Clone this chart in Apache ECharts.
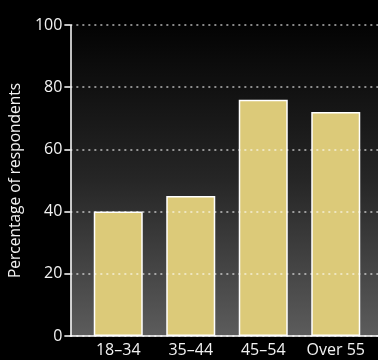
<!DOCTYPE html>
<html>
<head>
<meta charset="utf-8">
<script src="https://cdn.jsdelivr.net/npm/echarts@6/dist/echarts.min.js"></script>
<style>
html, body { margin: 0; padding: 0; background: #000; }
#chart { width: 378px; height: 360px; }
</style>
</head>
<body>
<div id="chart"></div>
<script>
var categories = ['18\u201334', '35\u201344', '45\u201354', 'Over 55'];
var percentages = [40, 45, 76, 72];
var yTicks = [0, 20, 40, 60, 80, 100];

var font = '"Open Sans", sans-serif';
var myChart = echarts.init(document.getElementById('chart'));

var option = {
    backgroundColor: '#000',
    grid: [
        // axis frame: y axis, dotted lines, x axis line
        {
            left: 69, right: 0, top: 25, bottom: 24,
            show: true, borderWidth: 0,
            backgroundColor: {
                type: 'linear', x: 0, y: 0, x2: 0, y2: 1,
                colorStops: [
                    { offset: 0, color: '#030303' },
                    { offset: 0.5, color: '#262626' },
                    { offset: 1, color: '#5c5c5c' }
                ]
            }
        },
        // bars
        { left: 82, right: 6, top: 25, bottom: 24 }
    ],
    xAxis: [
        {
            gridIndex: 0, type: 'value', min: 0, max: 1, z: 3,
            axisLine: { show: true, lineStyle: { color: '#fff', width: 1.5 } },
            axisTick: { show: false },
            axisLabel: { show: false },
            splitLine: { show: false }
        },
        {
            gridIndex: 1, type: 'category', data: categories,
            axisLine: { show: false },
            axisTick: { show: false },
            axisLabel: { color: '#f2f2f2', fontSize: 16, fontFamily: font, margin: 6, interval: 0 }
        }
    ],
    yAxis: [
        {
            gridIndex: 0, type: 'value', min: 0, max: 100, interval: 20, z: 3,
            name: 'Percentage of respondents',
            nameLocation: 'middle', nameGap: 45,
            nameTextStyle: { color: '#f2f2f2', fontSize: 15.5, fontFamily: font },
            axisLine: { show: true, lineStyle: { color: '#fff', width: 1.5 } },
            axisTick: { show: true, length: 6, lineStyle: { color: '#fff', width: 1.5 } },
            axisLabel: {
                color: '#f2f2f2', fontSize: 16, fontFamily: font, margin: 8,
                formatter: function(v) { return yTicks.indexOf(v) >= 0 ? String(v) : ''; }
            },
            splitLine: { show: true, lineStyle: { color: 'rgba(255,255,255,0.7)', width: 1.5, type: [2, 4] } }
        },
        {
            gridIndex: 1, type: 'value', min: 0, max: 100, interval: 20,
            axisLine: { show: false }, axisTick: { show: false },
            axisLabel: { show: false }, splitLine: { show: false }
        }
    ],
    series: [{
        type: 'bar',
        xAxisIndex: 1,
        yAxisIndex: 1,
        data: percentages,
        barWidth: 49,
        itemStyle: { color: '#dcca79', borderColor: '#fff', borderWidth: 1.5 }
    }]
};
myChart.setOption(option);
</script>
</body>
</html>
